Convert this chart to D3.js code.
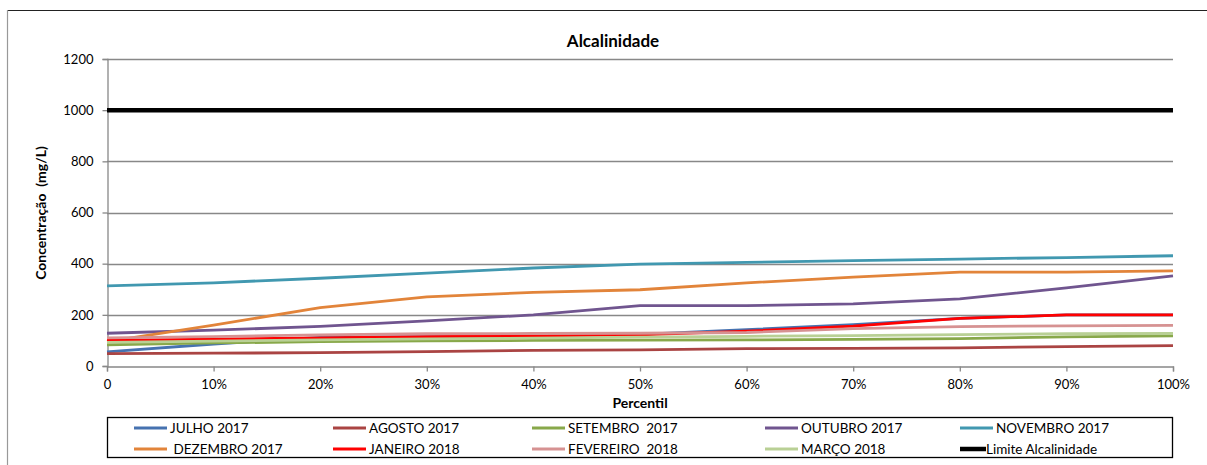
<!DOCTYPE html>
<html>
<head>
<meta charset="utf-8">
<script src="https://cdn.jsdelivr.net/npm/d3@7"></script>
<style>
  html, body { margin: 0; padding: 0; background: #fff; }
  svg { display: block; font-family: Lato, "Liberation Sans", sans-serif; }
  text { white-space: pre; }
</style>
</head>
<body>
<svg id="chart" width="1207" height="465"></svg>
<script>
// Percentiles on the x axis
const percentis = [0, 10, 20, 30, 40, 50, 60, 70, 80, 90, 100];
const xTickLabels = ["0", "10%", "20%", "30%", "40%", "50%", "60%", "70%", "80%", "90%", "100%"];
const yTicks = [0, 200, 400, 600, 800, 1000, 1200];

// Monthly alkalinity curves (mg/L)
const julho2017     = [55, 86, 112, 115, 118, 124, 142, 162, 186, 200, 200];
const agosto2017    = [48, 50, 52, 56, 61, 63, 68, 69, 71, 76, 80];
const setembro2017  = [83, 90, 95, 98, 100, 101, 102, 104, 107, 114, 118];
const outubro2017   = [128, 140, 155, 176, 200, 236, 236, 243, 262, 305, 352];
const novembro2017  = [313, 325, 343, 363, 383, 398, 405, 412, 418, 424, 431];
const dezembro2017  = [95, 160, 228, 270, 288, 298, 325, 347, 367, 367, 372];
const janeiro2018   = [100, 105, 110, 115, 118, 122, 136, 156, 186, 200, 200];
const fevereiro2018 = [110, 115, 122, 126, 127, 128, 131, 146, 154, 157, 159];
const marco2018     = [92, 97, 102, 106, 109, 113, 116, 119, 123, 126, 127];
const limite        = [1000, 1000, 1000, 1000, 1000, 1000, 1000, 1000, 1000, 1000, 1000];

const seriesNames = ["JULHO 2017", "AGOSTO 2017", "SETEMBRO  2017", "OUTUBRO 2017", "NOVEMBRO 2017",
                     " DEZEMBRO 2017", "JANEIRO 2018", "FEVEREIRO  2018", "MARÇO 2018", "Limite Alcalinidade"];
const seriesValues = [julho2017, agosto2017, setembro2017, outubro2017, novembro2017,
                      dezembro2017, janeiro2018, fevereiro2018, marco2018, limite];
const seriesColors = ["#4672B0", "#AA4443", "#88A84A", "#70558F", "#4198B0",
                      "#E2843A", "#FF0000", "#D69292", "#B9D095", "#000000"];
const seriesWidths = [2.8, 2.8, 2.8, 2.8, 2.8, 2.8, 2.8, 2.8, 2.8, 4.5];

const svg = d3.select("#chart");

// Outer chart frame (only top and left edges fall inside the view)
svg.append("line").attr("x1", 7).attr("x2", 1207).attr("y1", 10.5).attr("y2", 10.5)
  .attr("stroke", "#222").attr("stroke-width", 1.2);
svg.append("line").attr("x1", 7.5).attr("x2", 7.5).attr("y1", 10).attr("y2", 465)
  .attr("stroke", "#999").attr("stroke-width", 1.2);

const x = d3.scaleLinear().domain([0, 100]).range([107, 1173]);
const y = d3.scaleLinear().domain([0, 1200]).range([366, 59]);

const axisColor = "#888";

// Horizontal gridlines
svg.append("g").selectAll("line")
  .data(yTicks.filter(d => d > 0))
  .join("line")
  .attr("x1", x(0)).attr("x2", x(100))
  .attr("y1", d => Math.round(y(d)) + 0.5).attr("y2", d => Math.round(y(d)) + 0.5)
  .attr("stroke", axisColor).attr("stroke-width", 1.3);

// Y axis
const yAxis = svg.append("g")
  .attr("transform", `translate(${x(0) + 0.5},0)`)
  .call(d3.axisLeft(y).tickValues(yTicks).tickSize(5).tickPadding(9).tickFormat(d3.format("d")));
yAxis.select(".domain").attr("stroke", axisColor).attr("stroke-width", 1.3);
yAxis.selectAll(".tick line").attr("stroke", axisColor).attr("stroke-width", 1.3);
yAxis.selectAll(".tick text").attr("font-size", 13).attr("fill", "#000")
  .attr("font-family", "Lato, sans-serif");

// X axis
const xAxis = svg.append("g")
  .attr("transform", `translate(0,${Math.round(y(0)) + 0.5})`)
  .call(d3.axisBottom(x).tickValues(percentis).tickSize(5).tickPadding(8)
    .tickFormat((d, i) => xTickLabels[i]));
xAxis.select(".domain").attr("stroke", axisColor).attr("stroke-width", 1.3);
xAxis.selectAll(".tick line").attr("stroke", axisColor).attr("stroke-width", 1.3);
xAxis.selectAll(".tick text").attr("font-size", 13).attr("fill", "#000")
  .attr("font-family", "Lato, sans-serif");

// Series lines
const line = d3.line().x((d, i) => x(percentis[i])).y(d => y(d));
svg.append("g").selectAll("path")
  .data(seriesValues)
  .join("path")
  .attr("d", d => line(d))
  .attr("fill", "none")
  .attr("stroke", (d, i) => seriesColors[i])
  .attr("stroke-width", (d, i) => seriesWidths[i])
  .attr("stroke-linejoin", "round");

// Titles
svg.append("text").attr("x", 613).attr("y", 47).attr("text-anchor", "middle")
  .attr("font-size", 17).attr("font-weight", "bold").text("Alcalinidade");
svg.append("text").attr("transform", "translate(46,213) rotate(-90)")
  .attr("text-anchor", "middle").attr("font-size", 14).attr("font-weight", "bold")
  .text("Concentração  (mg/L)");
svg.append("text").attr("x", 640).attr("y", 408).attr("text-anchor", "middle")
  .attr("font-size", 14).attr("font-weight", "bold").text("Percentil");

// Legend
const legend = svg.append("g");
legend.append("rect").attr("x", 107.5).attr("y", 417.5).attr("width", 1065).attr("height", 40)
  .attr("fill", "#fff").attr("stroke", "#000").attr("stroke-width", 1.3);
const colX = [134, 333, 532, 765, 960];
const rowY = [428, 449];
seriesNames.forEach((name, i) => {
  const cx = colX[i % 5], cy = rowY[Math.floor(i / 5)];
  const isLimit = i === 9;
  const len = isLimit ? 26 : 33;
  legend.append("line").attr("x1", cx).attr("x2", cx + len).attr("y1", cy).attr("y2", cy)
    .attr("stroke", seriesColors[i]).attr("stroke-width", isLimit ? 4.5 : 3);
  legend.append("text").attr("x", cx + len + (isLimit ? 0 : 3)).attr("y", cy)
    .attr("dy", "0.35em").attr("font-size", 13.5).text(name);
});
</script>
</body>
</html>
